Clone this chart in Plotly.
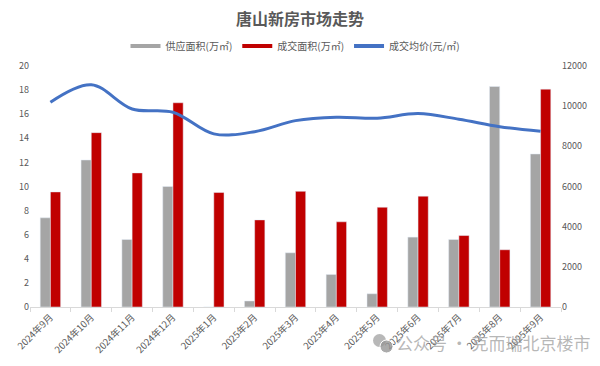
import plotly.graph_objects as go

months = ["2024年9月", "2024年10月", "2024年11月", "2024年12月", "2025年1月", "2025年2月",
          "2025年3月", "2025年4月", "2025年5月", "2025年6月", "2025年7月", "2025年8月", "2025年9月"]
supply = [7.4, 12.2, 5.6, 10.0, 0, 0.5, 4.5, 2.7, 1.1, 5.8, 5.6, 18.3, 12.7]
deal = [9.55, 14.47, 11.13, 16.95, 9.5, 7.23, 9.6, 7.07, 8.28, 9.2, 5.93, 4.75, 18.08]
price = [10200, 11070, 9860, 9700, 8620, 8730, 9280, 9450, 9400, 9630, 9350, 8980, 8750]

FONT = "Noto Sans CJK SC"
GRAY = "#a5a5a5"
RED = "#c00000"
BLUE = "#4472c4"
TXT = "#595959"
WM = "rgba(160,160,160,0.75)"

fig = go.Figure()
fig.add_trace(go.Bar(x=months, y=supply, name="供应面积(万㎡)", marker_color=GRAY, showlegend=False))
fig.add_trace(go.Bar(x=months, y=deal, name="成交面积(万㎡)", marker_color=RED, showlegend=False))
fig.add_trace(go.Scatter(x=months, y=price, name="成交均价(元/㎡)", mode="lines",
                         line=dict(color=BLUE, width=3, shape="spline", smoothing=1.0),
                         yaxis="y2", showlegend=False))
# legend entries (line-style swatches)
for nm, c in [("供应面积(万㎡)", GRAY), ("成交面积(万㎡)", RED), ("成交均价(元/㎡)", BLUE)]:
    fig.add_trace(go.Scatter(x=[months[0]], y=[None], name=nm, mode="lines",
                             line=dict(color=c, width=4), showlegend=True))

# watermark icon (two overlapping bubbles), in pixel-derived paper coords
def px(x):
    return (x - 30) / 531

def py(y):
    return (307 - y) / 241

shapes = [
    dict(type="circle", xref="paper", yref="paper", x0=px(373), x1=px(386), y0=py(347), y1=py(334),
         fillcolor=WM, line=dict(width=0), layer="above"),
    dict(type="circle", xref="paper", yref="paper", x0=px(380), x1=px(393), y0=py(353), y1=py(340),
         fillcolor="rgba(150,150,150,0.8)", line=dict(color="white", width=1), layer="above"),
]

fig.update_layout(
    width=600, height=366,
    margin=dict(l=30, r=39, t=66, b=59, autoexpand=False),
    paper_bgcolor="white", plot_bgcolor="white",
    font=dict(family=FONT, color=TXT, size=9),
    title=dict(text="<b>唐山新房市场走势</b>", x=0.5, xanchor="center",
               yref="container", y=1 - 19 / 366, yanchor="middle",
               font=dict(size=16, color=TXT, family=FONT)),
    barmode="group", bargap=0.5, bargroupgap=0,
    legend=dict(orientation="h", x=0.5, xanchor="center",
                yref="container", y=1 - 46 / 366, yanchor="middle",
                font=dict(size=10, color=TXT), itemwidth=30, traceorder="normal"),
    xaxis=dict(type="category", showline=True, linecolor="#d9d9d9", linewidth=1,
               ticks="outside", tickson="boundaries", ticklen=4, tickcolor="#d9d9d9",
               tickangle=-45, tickfont=dict(size=9.5, color=TXT), showgrid=False,
               automargin=False),
    yaxis=dict(range=[0, 20], dtick=2, showgrid=False, zeroline=False, showline=False,
               tickfont=dict(size=9, color=TXT), automargin=False),
    yaxis2=dict(range=[0, 12000], dtick=2000, overlaying="y", side="right", showgrid=False,
                zeroline=False, showline=False, tickformat="d",
                tickfont=dict(size=9, color=TXT), automargin=False),
    shapes=shapes,
    annotations=[dict(text="公众号 · 克而瑞北京楼市", xref="paper", yref="paper",
                      x=px(394), y=-(342 - 307) / 241, xanchor="left", yanchor="middle",
                      showarrow=False, font=dict(size=17, color=WM, family=FONT))],
)

fig.write_html("out.html", config={"displayModeBar": False},
               post_script="document.body.style.margin='0';")
